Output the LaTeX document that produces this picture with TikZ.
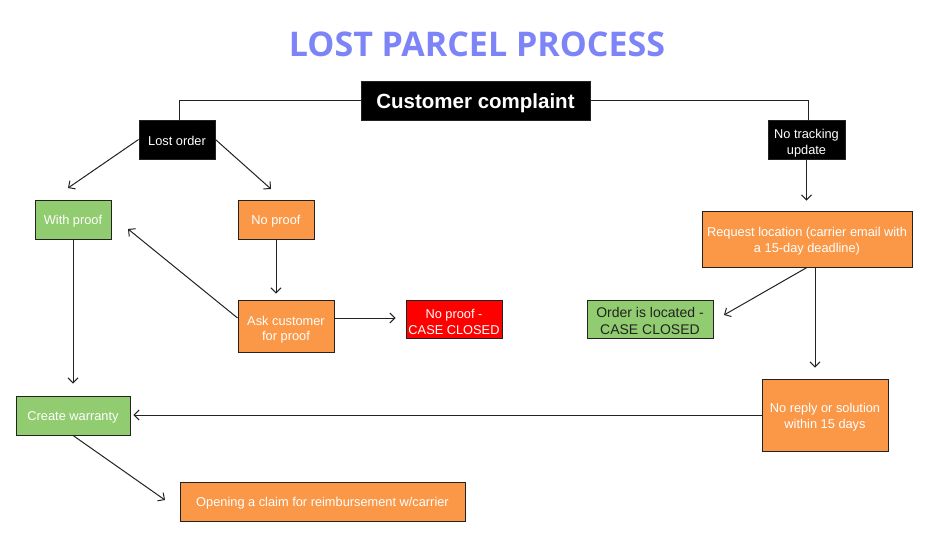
\documentclass[tikz,border=0pt]{standalone}
\usepackage{fontspec}
\setmainfont{Liberation Sans}
\newfontfamily\titlefont{Open Sans}
\usetikzlibrary{arrows.meta}
\definecolor{orng}{RGB}{250,152,72}
\definecolor{grn}{RGB}{145,204,112}
\definecolor{redc}{RGB}{255,0,0}
\definecolor{ttl}{RGB}{124,132,248}
\definecolor{edge}{RGB}{34,34,34}
\newcommand\strutup[1]{\rule{0pt}{#1}}
\begin{document}
\begin{tikzpicture}[x=1pt,y=-1pt,
  box/.style={draw=edge, line width=0.9pt, inner sep=0pt, align=center, text=white,
     font=\fontsize{12.8}{15.5}\selectfont},
  blk/.style={box, fill=black},
  org/.style={box, fill=orng},
  gbox/.style={box, fill=grn},
  rbox/.style={box, fill=redc},
  conn/.style={draw=edge, line width=1pt},
  arr/.style={conn, -{Straight Barb[length=5pt,width=10pt]}}]
\useasboundingbox (0,0) rectangle (930,560);
\node[font=\titlefont\bfseries\fontsize{34}{40}\selectfont, text=ttl] (title) at (477,44) {LOST PARCEL PROCESS};
\node[blk, minimum width=229pt, minimum height=39pt, font=\bfseries\fontsize{20.5}{24}\selectfont] (cc) at (475.5,100.5) {\strutup{21pt}Customer complaint};
\node[blk, minimum width=76pt, minimum height=39pt] (lost) at (177,139.5) {\strutup{12.5pt}Lost order};
\node[blk, minimum width=77pt, minimum height=39pt] (notrack) at (806.5,139.5) {\strutup{16.5pt}No tracking\\update};
\node[gbox, minimum width=76pt, minimum height=39pt] (with) at (73,219.5) {\strutup{12.5pt}With proof};
\node[org, minimum width=76pt, minimum height=39pt] (noproof) at (276,219.5) {\strutup{12.5pt}No proof};
\node[org, minimum width=96pt, minimum height=52pt] (ask) at (286,326) {\strutup{16.5pt}Ask customer\\for proof};
\node[rbox, minimum width=96pt, minimum height=38pt] (closed) at (454,319) {\strutup{15pt}No proof -\\CASE CLOSED};
\node[org, minimum width=210pt, minimum height=56pt] (req) at (807,239) {\strutup{13.5pt}Request location (carrier email with\\a 15-day deadline)};
\node[gbox, minimum width=126pt, minimum height=38pt, text=edge, font=\fontsize{14}{16.5}\selectfont] (located) at (650,319) {\strutup{14.5pt}Order is located -\\CASE CLOSED};
\node[org, minimum width=126pt, minimum height=72pt] (noreply) at (825,415) {\strutup{13.5pt}No reply or solution\\within 15 days};
\node[gbox, minimum width=114pt, minimum height=39pt] (warranty) at (73,415.5) {\strutup{12.5pt}Create warranty};
\node[org, minimum width=285pt, minimum height=39pt] (claim) at (322.5,501.5) {\strutup{12.5pt}Opening a claim for reimbursement w/carrier};
% free ends
\coordinate (wtip) at (68,188);
\coordinate (nptip) at (271,189);
\coordinate (asktip) at (128,229);
\coordinate (loctip) at (724,315);
\coordinate (claimtip) at (165,500);
% connectors
\draw[conn] (cc.west) -| ([xshift=2pt]lost.north);
\draw[conn] (cc.east) -| ([xshift=1.5pt]notrack.north);
\draw[arr] (lost.west) -- (wtip);
\draw[arr] (lost.east) -- (nptip);
\draw[arr, shorten >=6pt] (noproof.south) -- (ask.north -| noproof.south);
\draw[arr] ([yshift=8pt]ask.west) -- (asktip);
\draw[arr, shorten >=10pt] ([yshift=8pt]ask.east) -- ([yshift=8pt]ask.east -| closed.west);
\draw[arr, shorten >=12pt] (with.south) -- (warranty.north -| with.south);
\draw[arr, shorten >=10pt] (notrack.south) -- (req.north -| notrack.south);
\draw[arr] (req.south) -- (loctip);
\draw[arr, shorten >=11pt] ([xshift=8pt]req.south) -- ([xshift=8pt]req.south |- noreply.north);
\draw[arr, shorten >=3pt] (noreply.west) -- (noreply.west -| warranty.east);
\draw[arr] (warranty.south) -- (claimtip);
\end{tikzpicture}
\end{document}
